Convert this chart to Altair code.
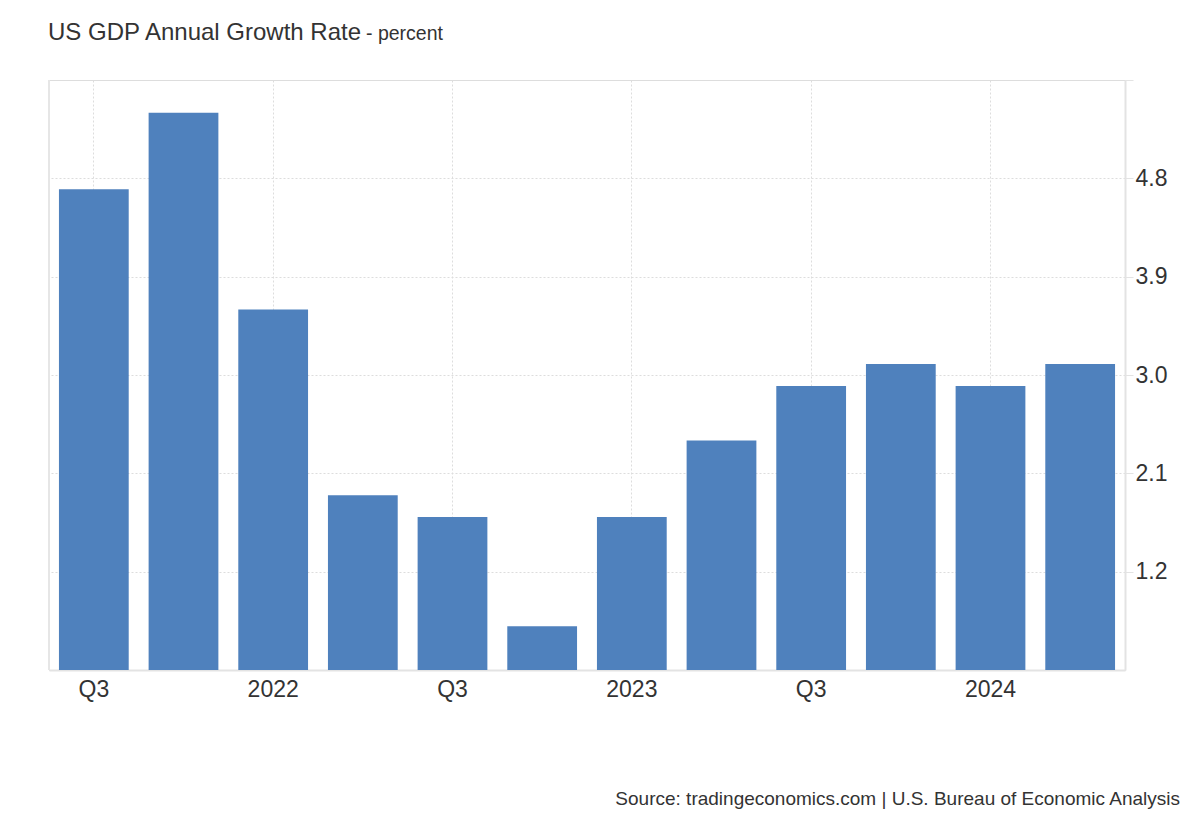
import altair as alt
import pandas as pd

quarters = ["2021 Q3", "2021 Q4", "2022 Q1", "2022 Q2", "2022 Q3", "2022 Q4",
            "2023 Q1", "2023 Q2", "2023 Q3", "2023 Q4", "2024 Q1", "2024 Q2"]
growth = [4.7, 5.4, 3.6, 1.9, 1.7, 0.7, 1.7, 2.4, 2.9, 3.1, 2.9, 3.1]
x_label_values = ["2021 Q3", "2022 Q1", "2022 Q3", "2023 Q1", "2023 Q3", "2024 Q1"]
y_tick_values = [1.2, 2.1, 3.0, 3.9, 4.8, 5.7]
y_domain = [0.3, 5.7]

title_main = "US GDP Annual Growth Rate"
title_unit = "- percent"
source_text = "Source: tradingeconomics.com | U.S. Bureau of Economic Analysis"

FONT = "Liberation Sans"
TXT = "#333333"

df = pd.DataFrame({"quarter": quarters, "growth": growth,
                   "base": [y_domain[0]] * len(quarters)})

bars = alt.Chart(df).mark_bar(color="#4F81BD").encode(
    x=alt.X("quarter:N", sort=quarters, title=None,
            scale=alt.Scale(paddingInner=0.222, paddingOuter=0.111),
            axis=alt.Axis(values=x_label_values, bandPosition=0.5,
                          labelExpr="indexof(datum.value, 'Q1') >= 0 ? slice(datum.value, 0, 4) : slice(datum.value, 5)",
                          labelAngle=0, labelFontSize=23, labelFont=FONT, labelColor=TXT,
                          labelPadding=8, ticks=False,
                          domainColor="#e3e3e3", domainWidth=2,
                          grid=True, gridColor="#dddddd", gridDash=[2, 2], gridWidth=1)),
    y=alt.Y("growth:Q", title=None,
            scale=alt.Scale(domain=y_domain, zero=False, nice=False),
            axis=alt.Axis(orient="right", values=y_tick_values,
                          labelExpr="datum.value > 5.5 ? '' : format(datum.value, '.1f')",
                          labelFontSize=23, labelFont=FONT, labelColor=TXT,
                          labelPadding=2, tickSize=8, tickColor="#e3e3e3",
                          domainColor="#e3e3e3", domainWidth=2,
                          grid=True, gridColor="#dddddd", gridDash=[2, 2], gridWidth=1)),
    y2="base:Q",
)

left_line = alt.Chart(pd.DataFrame({"v": y_domain[:1]})).mark_rule(color="#e6e6e6", strokeWidth=2).encode(
    x=alt.value(0), y=alt.value(0), y2=alt.value(590)
)

t_main = alt.Chart(pd.DataFrame({"t": [title_main]})).mark_text(
    align="left", baseline="alphabetic", fontSize=24, font=FONT, color=TXT
).encode(text="t:N", x=alt.value(-1), y=alt.value(-40))

t_unit = alt.Chart(pd.DataFrame({"t": [title_unit]})).mark_text(
    align="left", baseline="alphabetic", fontSize=19.5, font=FONT, color=TXT
).encode(text="t:N", x=alt.value(317), y=alt.value(-40))

t_src = alt.Chart(pd.DataFrame({"t": [source_text]})).mark_text(
    align="right", baseline="alphabetic", fontSize=19, font=FONT, color=TXT
).encode(text="t:N", x=alt.value(1131), y=alt.value(725))

chart = alt.layer(bars, left_line, t_main, t_unit, t_src).properties(
    width=1076, height=590,
    autosize=alt.AutoSizeParams(type="none"),
    padding={"left": 41, "top": 72, "right": 67, "bottom": 142},
).configure_view(stroke=None).configure(background="white")

chart.save("out.html", embed_options={"renderer": "svg", "actions": False})
